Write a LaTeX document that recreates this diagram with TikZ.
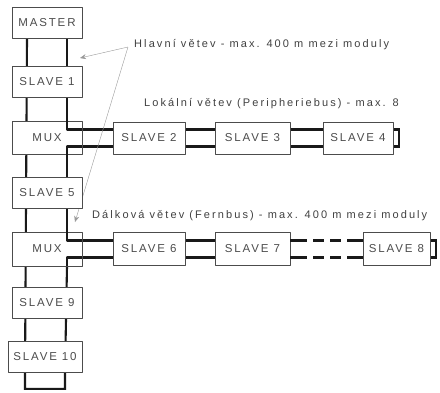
\documentclass[tikz,border=0pt]{standalone}
\usepackage{fontspec}
\setmainfont{Liberation Sans}
\newfontfamily\modfont[LetterSpace=16]{Liberation Sans}
\newfontfamily\popfont[LetterSpace=19]{Liberation Sans}
\usetikzlibrary{arrows.meta, backgrounds}

\tikzset{
  modul/.style={draw=black!70, line width=0.8pt, fill=white, minimum width=70pt,
    minimum height=31pt, inner sep=0pt, text=black!70,
    font=\fontsize{11.5}{12}\modfont},
  bus/.style={line width=2.1pt, black!90, line cap=butt},
  popis/.style={anchor=west, inner sep=0pt, text=black!75,
    font=\fontsize{11}{12}\popfont},
  ukaz/.style={black!40, line width=0.4pt, -{Stealth[length=6pt, width=5pt]}},
  prerus/.style={dash pattern=on 17pt off 6pt on 11pt off 6pt on 11pt off 6pt on 20pt}
}

\begin{document}
\begin{tikzpicture}[x=1pt, y=-1pt, line join=round]
  % Bounding box and bus offsets
  \useasboundingbox (0,0) rectangle (440,392);
  \def\bo{20pt} \def\ro{8.5pt}

  % Main branch
  \node[modul] (master) at (47,23) {MASTER};
  \node[modul] (s1) at (47,82) {SLAVE 1};
  \node[modul, minimum height=33pt] (mux1) at (47,138) {MUX};
  \node[modul] (s5) at (47,192.5) {SLAVE 5};
  \node[modul, minimum height=34pt] (mux2) at (47,249) {MUX};
  \node[modul] (s9) at (47,302.5) {SLAVE 9};
  \node[modul, minimum width=74pt] (s10) at (45,357) {SLAVE 10};

  % Local branch
  \node[modul, minimum width=72pt, minimum height=32pt] (s2) at (149,138) {SLAVE 2};
  \node[modul, minimum width=75pt, minimum height=32pt] (s3) at (252.5,138) {SLAVE 3};
  \node[modul, minimum height=32pt] (s4) at (358,138) {SLAVE 4};

  % Remote branch
  \node[modul, minimum width=72pt, minimum height=33pt] (s6) at (149,249) {SLAVE 6};
  \node[modul, minimum width=75pt, minimum height=33pt] (s7) at (252.5,249) {SLAVE 7};
  \node[modul, minimum width=67pt, minimum height=33pt] (s8) at (396.5,249) {SLAVE 8};

  % Bus lines behind the modules
  \begin{scope}[on background layer]
    \draw[bus] ([xshift=-\bo]master.south) -- ([xshift=-\bo]s10.south)
      -- ++(0,16) -| ([xshift=\bo]s10.south);
    \draw[bus] ([xshift=\bo]master.south) -- ([xshift=\bo]mux1.north);
    \draw[bus] ([xshift=\bo]mux1.south) -- ([xshift=\bo]mux2.north);
    \draw[bus] ([xshift=\bo]mux2.south) -- ([xshift=\bo]s10.south);
    % local
    \draw[bus] ([yshift=\ro]mux1.east) -- ([yshift=\ro]s4.east)
      -- ++(6,0) |- ([yshift=-\ro]s4.east) -- ([yshift=-\ro]mux1.east);
    % remote
    \draw[bus] ([yshift=\ro]mux2.east) -- ([yshift=\ro]s7.east);
    \draw[bus] ([yshift=-\ro]mux2.east) -- ([yshift=-\ro]s7.east);
    \draw[bus] ([yshift=\ro]s8.east) -- ++(6,0) |- ([yshift=-\ro]s8.east);
  \end{scope}

  % Interrupted part of the remote branch
  \draw[bus, prerus] ([yshift=\ro]s7.east) -- ([yshift=\ro]s8.west);
  \draw[bus, prerus] ([yshift=-\ro]s7.east) -- ([yshift=-\ro]s8.west);

  % Bus inside the multiplexers
  \foreach \m in {mux1,mux2} {
    \draw[bus] ([xshift=\bo]\m.north) |- ([yshift=\ro]\m.east);
    \draw[bus] ([xshift=\bo]\m.south) |- ([yshift=-\ro]\m.east);
  }

  % Labels
  \node[popis] (hlavni) at (134,45) {Hlavní větev - max. 400 m mezi moduly};
  \node[popis] (lokal) at (144,104) {Lokální větev (Peripheriebus) - max. 8};
  \node[popis] (dalk) at (92,216) {Dálková větev (Fernbus) - max. 400 m mezi moduly};

  % Pointers
  \coordinate (t1) at (80,58);
  \coordinate (t2) at (75,222);
  \begin{scope}[on background layer]
    \draw[ukaz] ([xshift=-6pt, yshift=-2pt]hlavni.west) -- (t1);
    \draw[ukaz] ([xshift=-6pt, yshift=-2pt]hlavni.west) -- (t2);
  \end{scope}
\end{tikzpicture}
\end{document}
